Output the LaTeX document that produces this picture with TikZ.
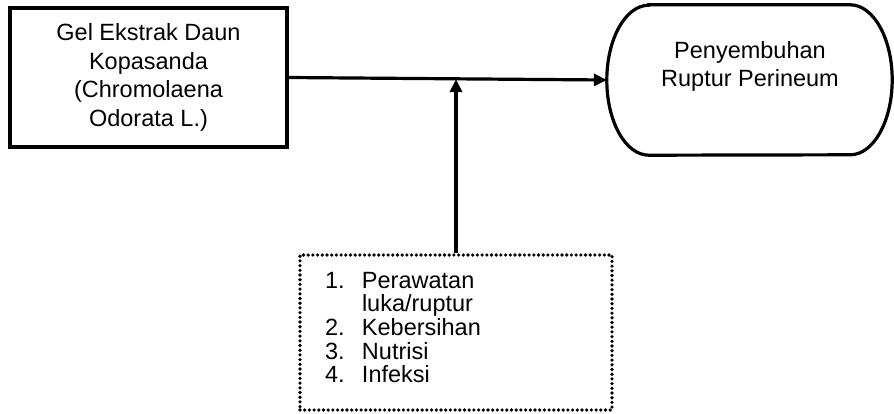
\documentclass[tikz,border=0pt]{standalone}
\usepackage{fontspec}
\setmainfont{Liberation Sans}
\usetikzlibrary{arrows.meta}
\begin{document}
\begin{tikzpicture}[x=1pt,y=-1pt,
  solidbox/.style={draw, line width=3.2pt, rectangle, inner sep=0pt, align=center,
    font=\fontsize{23.5}{28.5}\selectfont},
  dotbox/.style={draw, line width=3.6pt, line cap=round, dash pattern=on 0pt off 4.7pt,
    rectangle, inner sep=0pt},
  listtext/.style={align=left, inner sep=0pt, text width=262pt,
    font=\fontsize{23.5}{23.6}\selectfont},
  conn/.style={line width=3.2pt, -{Triangle[length=13pt,width=12pt]}},
  plain/.style={font=\fontsize{23.5}{28}\selectfont, align=center, inner sep=0pt}
]
\useasboundingbox (0,0) rectangle (894,413);
\node[solidbox, minimum width=277pt, minimum height=139pt] (src) at (148.5,77.5)
  {Gel Ekstrak Daun\\Kopasanda\\(Chromolaena\\Odorata L.)};
\node[minimum width=285pt, minimum height=150pt, inner sep=0pt] (goal) at (749.5,80) {};
\draw[line width=3.2pt] ([xshift=42pt]goal.north west) -- ([xshift=-42pt]goal.north east)
  arc[start angle=90, end angle=-90, x radius=42pt, y radius=75pt]
  -- ([xshift=42pt]goal.south west)
  arc[start angle=270, end angle=90, x radius=42pt, y radius=75pt] -- cycle;
\node[plain] (goaltxt) at (750,66) {Penyembuhan\\Ruptur Perineum};
\node[dotbox, minimum width=312pt, minimum height=155pt] (factors) at (456,332.5) {};
\node[listtext] (factorstxt) at (456,327.5)
  {\makebox[37pt][l]{1.}Perawatan\\
   \makebox[37pt][l]{}luka/ruptur\\
   \makebox[37pt][l]{2.}Kebersihan\\
   \makebox[37pt][l]{3.}Nutrisi\\
   \makebox[37pt][l]{4.}Infeksi};
\coordinate (join) at (factors.north |- src.east);
\draw[conn] (src.east) -- (goal.west);
\draw[conn, shorten >=1.6pt] (factors.north) -- (join);
\end{tikzpicture}
\end{document}
